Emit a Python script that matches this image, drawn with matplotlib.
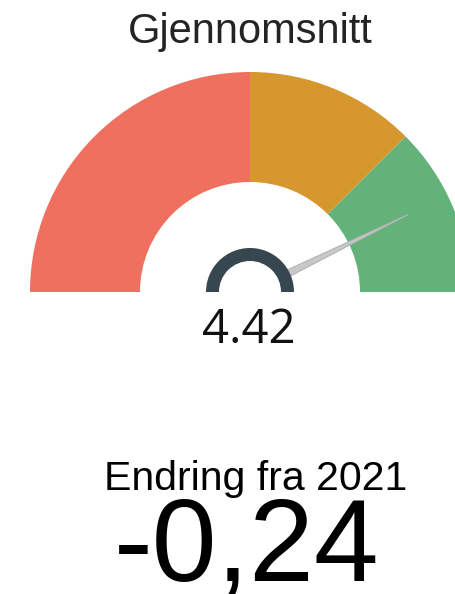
import numpy as np
import matplotlib
matplotlib.use("Agg")
import matplotlib.pyplot as plt
from matplotlib.patches import Wedge, Polygon

# gauge data
GAUGE_MIN, GAUGE_MAX = 1, 5
band_edges = [1, 3, 4, 5]
band_colors = ["#F0705F", "#D6972F", "#62B27A"]
value = 4.42
value_label = "4.42"
title = "Gjennomsnitt"
change_label = "Endring fra 2021"
change_value = "-0,24"

W, H = 456, 594
CX, CY = 250, H - 292
R_OUT, R_IN = 220, 110


def to_angle(v):
    return 180 - (v - GAUGE_MIN) / (GAUGE_MAX - GAUGE_MIN) * 180


fig = plt.figure(figsize=(W / 100, H / 100), dpi=100)
ax = fig.add_axes([0, 0, 1, 1])
ax.set_xlim(0, W); ax.set_ylim(0, H)
ax.set_aspect("equal"); ax.axis("off")

for lo, hi, c in zip(band_edges[:-1], band_edges[1:], band_colors):
    ax.add_patch(Wedge((CX, CY), R_OUT, to_angle(hi), to_angle(lo),
                       width=R_OUT - R_IN, facecolor=c, edgecolor="none"))

# needle
th = np.radians(to_angle(value))
d = np.array([np.cos(th), np.sin(th)]); n = np.array([-d[1], d[0]])
c0 = np.array([CX, CY])
needle = [c0 + d * 40 + n * 3.5, c0 + d * 176, c0 + d * 40 - n * 3.5]
ax.add_patch(Polygon(needle, closed=True, facecolor="#C8C8C8",
                     edgecolor="#B4B4B4", lw=0.8))

# hub
ax.add_patch(Wedge((CX, CY), 44, 0, 180, width=13, facecolor="#37474F",
                   edgecolor="none"))

ax.text(CX, H - 43, title, ha="center", va="baseline", fontsize=30,
        color="#252423", family="Liberation Sans")
ax.text(249, H - 343, value_label, ha="center", va="baseline", fontsize=34,
        color="#111111", family="Open Sans")
ax.text(256, H - 490, change_label, ha="center", va="baseline", fontsize=29.5,
        color="black", family="Liberation Sans")
ax.text(247, H - 581, change_value, ha="center", va="baseline", fontsize=84,
        color="black", family="Liberation Sans")

fig.savefig("out.png", dpi=100, facecolor="white")
